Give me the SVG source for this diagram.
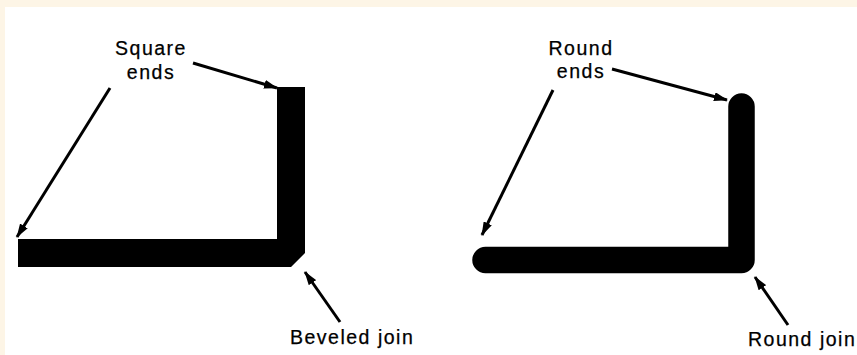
<svg xmlns="http://www.w3.org/2000/svg" width="857" height="355" viewBox="0 0 857 355">
<style>
.lbl{font-family:"Liberation Sans",Arial,sans-serif;font-size:19.5px;letter-spacing:1.5px;fill:#000;stroke:#000;stroke-width:0.25px}
.ptr{stroke:#000;stroke-width:3;fill:none}
</style>
<defs>
<marker id="ah" viewBox="0 0 14 9" refX="13" refY="4.5" markerWidth="14" markerHeight="9" markerUnits="userSpaceOnUse" orient="auto">
<path d="M0 0 L14 4.5 L0 9 Z" fill="#000"/>
</marker>
</defs>
<rect width="857" height="355" fill="#fdf5e6"/>
<rect x="5" y="7" width="852" height="348" fill="#fff"/>
<g id="beveled-line">
<path d="M18 253 H291 V87" stroke="#000" stroke-width="28" fill="none" stroke-linejoin="bevel" stroke-linecap="butt"/>
</g>
<g id="round-line">
<path d="M485.5 260 H741.5 V106.5" stroke="#000" stroke-width="26.5" fill="none" stroke-linejoin="round" stroke-linecap="round"/>
</g>
<g id="label-square-ends">
<text class="lbl" text-anchor="middle"><tspan x="151" y="55">Square</tspan><tspan x="151" y="79">ends</tspan></text>
</g>
<g id="label-beveled-join">
<text class="lbl" x="290" y="344">Beveled join</text>
</g>
<g id="label-round-ends">
<text class="lbl" text-anchor="middle"><tspan x="581" y="55">Round</tspan><tspan x="581" y="78">ends</tspan></text>
</g>
<g id="label-round-join">
<text class="lbl" x="748" y="346">Round join</text>
</g>
<g id="connectors">
<line class="ptr" x1="193" y1="63" x2="277" y2="88" marker-end="url(#ah)"/>
<line class="ptr" x1="110" y1="88" x2="17" y2="237" marker-end="url(#ah)"/>
<line class="ptr" x1="340" y1="322" x2="305" y2="272" marker-end="url(#ah)"/>
<line class="ptr" x1="612" y1="69" x2="727" y2="100" marker-end="url(#ah)"/>
<line class="ptr" x1="553" y1="90" x2="482" y2="235" marker-end="url(#ah)"/>
<line class="ptr" x1="788" y1="325" x2="755" y2="277" marker-end="url(#ah)"/>
</g>
</svg>
